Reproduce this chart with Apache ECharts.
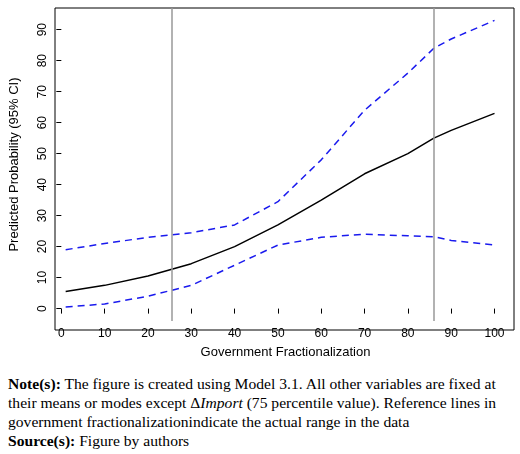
<!DOCTYPE html>
<html><head><meta charset="utf-8">
<script src="https://cdn.jsdelivr.net/npm/echarts@6/dist/echarts.min.js"></script>
<style>
body{margin:0;background:#fff;}
#main{width:520px;height:364px;}
#note{font-family:"Liberation Serif","DejaVu Serif",serif;font-size:15.6px;line-height:19px;color:#000;padding:10px 6px 0 8px;}
</style></head><body>
<div id="main"></div>
<div id="note"><b>Note(s):</b> The figure is created using Model 3.1. All other variables are fixed at their means or modes except Δ<i>Import</i> (75 percentile value). Reference lines in government fractionalizationindicate the actual range in the data<br><b>Source(s):</b> Figure by authors</div>
<script>
// 数据
var xs = [1, 10, 20, 30, 40, 50, 60, 70, 80, 86, 90, 100];
var predicted = [5.5, 7.5, 10.5, 14.5, 20, 27, 35, 43.5, 50, 55, 57.5, 63];
var upperCI = [19, 21, 23, 24.5, 27, 34.5, 48, 64, 76, 84, 87, 93];
var lowerCI = [0.5, 1.5, 4, 7.5, 14, 20.5, 23, 24, 23.5, 23.2, 22, 20.5];
var refLines = [25.5, 86];

function pairs(v) { return xs.map(function (x, i) { return [x, v[i]]; }); }

var myChart = echarts.init(document.getElementById('main'));
var option = {
  animation: false,
  grid: {left: 55, right: 6, top: 8, bottom: 34},
  xAxis: {
    type: 'value', min: -1, max: 104.5, interval: 10,
    name: 'Government Fractionalization', nameLocation: 'middle', nameGap: 25,
    nameTextStyle: {fontFamily: 'Liberation Sans', fontSize: 13, color: '#000'},
    axisLine: {show: false}, splitLine: {show: false},
    axisTick: {show: true, length: 5, lineStyle: {color: '#000'}, customValues: [0,10,20,30,40,50,60,70,80,90,100]},
    axisLabel: {fontFamily: 'Liberation Sans', fontSize: 12, color: '#000', margin: 7,
      customValues: [0,10,20,30,40,50,60,70,80,90,100]}
  },
  yAxis: {
    type: 'value', min: -4, max: 97,
    name: 'Predicted Probability (95% CI)', nameLocation: 'middle', nameGap: 36,
    nameTextStyle: {fontFamily: 'Liberation Sans', fontSize: 13, color: '#000'},
    axisLine: {show: false}, splitLine: {show: false},
    axisTick: {show: true, length: 5, lineStyle: {color: '#000'}, customValues: [0,10,20,30,40,50,60,70,80,90]},
    axisLabel: {fontFamily: 'Liberation Sans', fontSize: 12, color: '#000', rotate: 90, margin: 8,
      customValues: [0,10,20,30,40,50,60,70,80,90]}
  },
  series: [
    {type: 'line', data: pairs(upperCI), symbol: 'none', lineStyle: {color: '#1a1aee', type: [7, 5], width: 1.5}},
    {type: 'line', data: pairs(lowerCI), symbol: 'none', lineStyle: {color: '#1a1aee', type: [7, 5], width: 1.5}},
    {type: 'line', data: pairs(predicted), symbol: 'none', lineStyle: {color: '#000', width: 1.5},
      markLine: {symbol: 'none', silent: true, label: {show: false},
        lineStyle: {color: '#999', type: 'solid', width: 1.5},
        data: refLines.map(function (v) { return {xAxis: v}; })}}
  ],
  graphic: [{type: 'rect', shape: {x: 55, y: 8, width: 459, height: 322}, style: {fill: 'none', stroke: '#000', lineWidth: 1}}]
};
myChart.setOption(option);
</script>
</body></html>
